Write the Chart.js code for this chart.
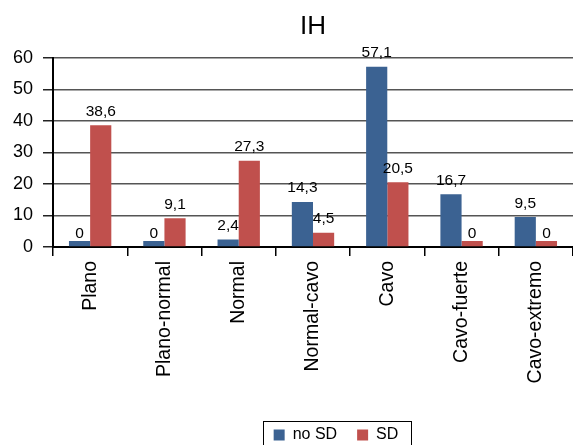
<!DOCTYPE html>
<html>
<head>
<meta charset="utf-8">
<script src="https://cdn.jsdelivr.net/npm/chart.js@4/dist/chart.umd.min.js"></script>
<style>
  html, body { margin: 0; padding: 0; background: #fff; overflow: hidden; }
  #wrap { width: 573px; height: 445px; position: relative; overflow: hidden; }
</style>
</head>
<body>
<div id="wrap"><canvas id="c" width="573" height="445"></canvas></div>
<script>
// Foot-type categories and percentages per group
const categories = ['Plano', 'Plano-normal', 'Normal', 'Normal-cavo', 'Cavo', 'Cavo-fuerte', 'Cavo-extremo'];
const noSD = [0, 0, 2.4, 14.3, 57.1, 16.7, 9.5];
const SD = [38.6, 9.1, 27.3, 4.5, 20.5, 0, 0];
const seriesNames = ['no SD', 'SD'];
const yTicks = [0, 10, 20, 30, 40, 50, 60];

const FONT = '"Liberation Sans", Arial, Helvetica, sans-serif';
Chart.defaults.font.family = FONT;
Chart.defaults.color = '#000';

// Value labels above each bar, decimal comma
const valueLabels = {
  id: 'valueLabels',
  afterDatasetsDraw(chart) {
    const { ctx } = chart;
    const yScale = chart.scales.y;
    ctx.save();
    ctx.font = '15.5px ' + FONT;
    ctx.fillStyle = '#000';
    ctx.textAlign = 'center';
    ctx.textBaseline = 'bottom';
    chart.data.datasets.forEach((ds, i) => {
      chart.getDatasetMeta(i).data.forEach((bar, j) => {
        const v = ds.data[j];
        ctx.fillText(String(v).replace('.', ','), bar.x, yScale.getPixelForValue(v) - 6);
      });
    });
    ctx.restore();
  }
};

// Move the legend under the plot and frame it
const legendFrame = {
  id: 'legendFrame',
  afterLayout(chart) {
    const lg = chart.legend;
    lg.left += 23; lg.right += 23;
    lg.top += 8; lg.bottom += 8;
  },
  afterDraw(chart) {
    const lg = chart.legend;
    const hb = lg.legendHitBoxes;
    if (!hb || !hb.length) return;
    const first = hb[0], last = hb[hb.length - 1];
    const { ctx } = chart;
    ctx.save();
    ctx.strokeStyle = '#000';
    ctx.lineWidth = 1;
    const l = Math.round(first.left - 11) + 0.5;
    const r = Math.round(last.left + last.width + 13) + 0.5;
    const t = Math.round(first.top - 6) + 0.5;
    ctx.strokeRect(l, t, r - l, 40);
    ctx.restore();
  }
};

new Chart(document.getElementById('c'), {
  type: 'bar',
  data: {
    labels: categories,
    datasets: [
      { label: seriesNames[0], data: noSD, backgroundColor: '#3b6292', minBarLength: 6 },
      { label: seriesNames[1], data: SD, backgroundColor: '#c0504d', minBarLength: 6 }
    ]
  },
  options: {
    responsive: false,
    animation: false,
    devicePixelRatio: 1,
    layout: { padding: { left: 0, right: 0, top: 0, bottom: 0 } },
    datasets: { bar: { categoryPercentage: 0.57, barPercentage: 1.0 } },
    plugins: {
      title: {
        display: true,
        text: 'IH',
        fullSize: false,
        color: '#000',
        font: { size: 26, weight: 'normal', family: FONT },
        padding: { top: 11, bottom: 15.5 }
      },
      legend: {
        display: true,
        position: 'bottom',
        fullSize: false,
        labels: {
          boxWidth: 11,
          boxHeight: 11,
          padding: 20,
          color: '#000',
          font: { size: 16, family: FONT }
        }
      },
      tooltip: { enabled: false }
    },
    scales: {
      x: {
        grid: {
          offset: true,
          drawOnChartArea: false,
          drawTicks: true,
          tickLength: 9,
          color: '#000',
          tickColor: '#000',
          lineWidth: 1.5
        },
        border: { display: true, color: '#000', width: 2 },
        ticks: {
          autoSkip: false,
          minRotation: 90,
          maxRotation: 90,
          padding: 5,
          color: '#000',
          font: { size: 19.5, family: FONT }
        },
        afterFit(scale) { scale.height = 152; }
      },
      y: {
        min: 0,
        max: 60,
        afterBuildTicks(scale) { scale.ticks = yTicks.map(v => ({ value: v })); },
        grid: {
          color: '#555',
          lineWidth: 1.5,
          drawTicks: true,
          tickLength: 10,
          tickColor: '#222'
        },
        border: { display: true, color: '#000', width: 2 },
        ticks: {
          padding: 10,
          color: '#000',
          font: { size: 18, family: FONT }
        },
        afterFit(scale) { scale.width = 53; }
      }
    }
  },
  plugins: [valueLabels, legendFrame]
});
</script>
</body>
</html>
